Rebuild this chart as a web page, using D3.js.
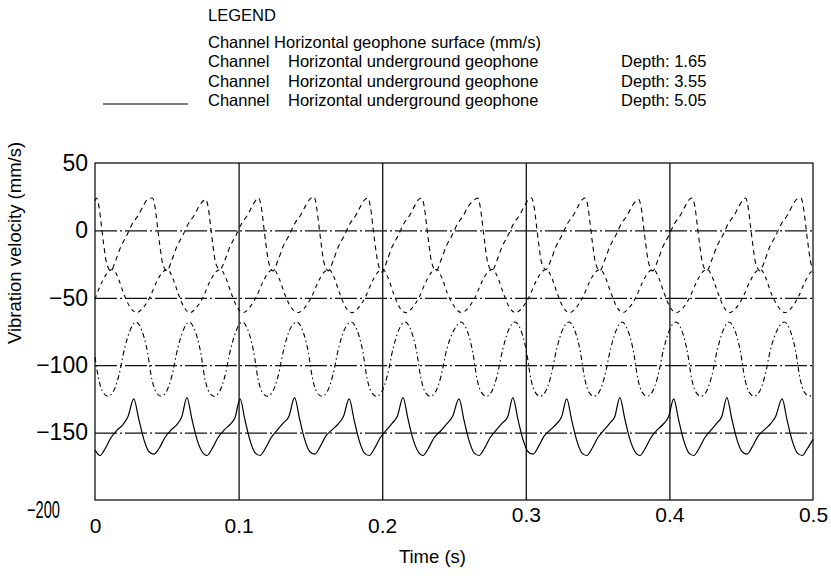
<!DOCTYPE html>
<html>
<head>
<meta charset="utf-8">
<script src="https://d3js.org/d3.v7.min.js"></script>
<style>
  body { margin: 0; background: #fff; }
  svg text { font-family: Arial, "Liberation Sans", sans-serif; fill: #000; }
</style>
</head>
<body>
<div id="my_dataviz"></div>
<script>

// key points: [time (ms), velocity (mm/s)]
var surface = [
  [0,22],[1,24],[3,16],[4.5,3],[6,-10],[8,-24],[11,-30],[14.5,-22],[18,-12],[22,-4],[26,5],[30,11],[33.5,18],[36.5,23],
  [40,24],[42,16],[43.5,3],[45,-10],[47,-24],[50,-30],[53.5,-22],[57,-12],[61,-4],[65,5],[69,11],[72.5,18],[75.5,22],
  [77,23],[79,16],[80.5,3],[82,-10],[84,-24],[87,-29],[90.5,-22],[94,-12],[98,-4],[102,5],[106,11],[109.5,18],[112.5,23],
  [114,24],[116,16],[117.5,3],[119,-10],[121,-24],[124,-30],[127.5,-22],[131,-12],[135,-4],[139,5],[143,11],[146.5,18],[149.5,23],
  [152.5,25],[154.5,16],[156,3],[157.5,-10],[159.5,-24],[162.5,-30],[166,-22],[169.5,-12],[173.5,-4],[177.5,5],[181.5,11],[185,18],[188,23],
  [190,24],[192,16],[193.5,3],[195,-10],[197,-24],[200,-31],[203.5,-22],[207,-12],[211,-4],[215,5],[219,11],[222.5,18],[225.5,23],
  [227.5,24],[229.5,16],[231,3],[232.5,-10],[234.5,-24],[237.5,-30],[241,-22],[244.5,-12],[248.5,-4],[252.5,5],[256.5,11],[260,18],[263.5,22],
  [266.5,24],[268.5,16],[270,3],[271.5,-10],[273.5,-24],[276.5,-30],[280,-22],[283.5,-12],[287.5,-4],[291.5,5],[295.5,11],[299,18],[302,23],
  [304,24],[306,16],[307.5,3],[309,-10],[311,-24],[314,-29],[317.5,-22],[321,-12],[325,-4],[329,5],[333,11],[336.5,18],[339.5,23],
  [341.5,24],[343.5,16],[345,3],[346.5,-10],[348.5,-24],[351.5,-30],[355,-22],[358.5,-12],[362.5,-4],[366.5,5],[370.5,11],[374,18],[377,22],
  [378.5,23],[380.5,16],[382,3],[383.5,-10],[385.5,-24],[388.5,-30],[392,-22],[395.5,-12],[399.5,-4],[403.5,5],[407.5,11],[411,18],[414,23],
  [416,24],[418,16],[419.5,3],[421,-10],[423,-24],[426,-30],[429.5,-22],[433,-12],[437,-4],[441,5],[445,11],[448.5,18],[451.5,23],
  [453,24],[455,16],[456.5,3],[458,-10],[460,-24],[463,-30],[466.5,-22],[470,-12],[474,-4],[478,5],[482,11],[485.5,18],[488.5,23],
  [491.5,24],[493.5,16],[495,3],[496.5,-10],[498.5,-24],[500,-28]
];

var depth165 = [
  [0,-51],[5,-38],[9,-31],[12.5,-29],[16,-35],[20,-47],[24.5,-57],
  [29,-61],[33,-58],[38,-50],[43,-38],[47,-31],[50.5,-29],[54,-35],[58,-47],[62,-57],
  [66,-61],[70,-58],[75,-50],[80,-38],[84,-31],[87.5,-29],[91,-35],[95,-47],[99,-57],
  [103,-61],[107,-58],[112,-50],[117,-38],[121,-31],[124.5,-29],[128,-35],[132,-47],[136.5,-57],
  [141.5,-61],[145.5,-58],[150.5,-50],[155.5,-38],[159.5,-31],[163,-29],[166.5,-35],[170.5,-47],[174.5,-57],
  [179,-61],[183,-58],[188,-50],[193,-38],[197,-31],[200.5,-29],[204,-35],[208,-47],[212,-57],
  [216.5,-61],[220.5,-58],[225.5,-50],[230.5,-38],[234.5,-31],[238,-29],[241.5,-35],[245.5,-47],[250.5,-57],
  [255.5,-61],[259.5,-58],[264.5,-50],[269.5,-38],[273.5,-31],[277,-29],[280.5,-35],[284.5,-47],[288.5,-57],
  [293,-61],[297,-58],[302,-50],[307,-38],[311,-31],[314.5,-29],[318,-35],[322,-47],[326,-57],
  [330.5,-61],[334.5,-58],[339.5,-50],[344.5,-38],[348.5,-31],[352,-29],[355.5,-35],[359.5,-47],[363.5,-57],
  [367.5,-61],[371.5,-58],[376.5,-50],[381.5,-38],[385.5,-31],[389,-29],[392.5,-35],[396.5,-47],[400.5,-57],
  [405,-61],[409,-58],[414,-50],[419,-38],[423,-31],[426.5,-29],[430,-35],[434,-47],[438,-57],
  [442,-61],[446,-58],[451,-50],[456,-38],[460,-31],[463.5,-29],[467,-35],[471,-47],[476,-57],
  [480.5,-61],[484.5,-58],[489.5,-50],[494.5,-38],[498.5,-31],[500,-30]
];

var depth355 = [
  [0,-94],[2.5,-110],[5.5,-120],[9,-123],[12.5,-120],[16.5,-108],[20.5,-88],[24.5,-74],
  [28.5,-68],[32.5,-74],[36.5,-90],[39.5,-110],[42.5,-120],[46,-123],[49.5,-120],[53.5,-108],[57.5,-88],[61.5,-74],
  [65.5,-68],[69.5,-74],[73.5,-90],[76.5,-110],[79.5,-120],[83,-123],[86.5,-120],[90.5,-108],[94.5,-88],[98.5,-74],
  [102.5,-68],[106.5,-74],[110.5,-90],[113.5,-110],[116.5,-120],[120,-123],[123.5,-120],[127.5,-108],[131.5,-88],[135.5,-74],
  [140.5,-68],[144.5,-74],[148.5,-90],[151.5,-110],[154.5,-120],[158,-123],[161.5,-120],[165.5,-108],[169.5,-88],[173.5,-74],
  [178.5,-68],[182.5,-74],[186.5,-90],[189.5,-110],[192.5,-120],[196,-123],[199.5,-120],[203.5,-108],[207.5,-88],[211.5,-74],
  [216,-68],[220,-74],[224,-90],[227,-110],[230,-120],[233.5,-123],[237,-120],[241,-108],[245,-88],[250,-74],
  [255,-68],[259,-74],[263,-90],[266,-110],[269,-120],[272.5,-123],[276,-120],[280,-108],[284,-88],[288,-74],
  [292.5,-68],[296.5,-74],[300.5,-90],[303.5,-110],[306.5,-120],[310,-123],[313.5,-120],[317.5,-108],[321.5,-88],[325.5,-74],
  [330,-68],[334,-74],[338,-90],[341,-110],[344,-120],[347.5,-123],[351,-120],[355,-108],[359,-88],[363,-74],
  [367,-68],[371,-74],[375,-90],[378,-110],[381,-120],[384.5,-123],[388,-120],[392,-108],[396,-88],[400,-74],
  [404.5,-68],[408.5,-74],[412.5,-90],[415.5,-110],[418.5,-120],[422,-123],[425.5,-120],[429.5,-108],[433.5,-88],[437.5,-74],
  [441.5,-68],[445.5,-74],[449.5,-90],[452.5,-110],[455.5,-120],[459,-123],[462.5,-120],[466.5,-108],[470.5,-88],[475,-74],
  [480,-68],[484,-74],[488,-90],[491,-110],[494,-120],[497.5,-123],[500,-121]
];

var depth505 = [
  [0,-163],[3.5,-167],[7,-162],[11,-154],[15.5,-148],[19.5,-144],[23,-138],
  [27,-125],[30.5,-140],[34,-155],[37.5,-164],[41,-166],[44.5,-162],[48.5,-154],[53,-148],[57,-144],[60.5,-138],
  [64,-124],[67.5,-140],[71,-155],[74.5,-164],[78,-167],[81.5,-162],[85.5,-154],[90,-148],[94,-144],[97.5,-139],
  [101,-125],[104.5,-141],[108,-156],[111.5,-165],[115,-167],[118.5,-162],[122.5,-154],[127,-148],[131,-143],[135,-138],
  [139,-124],[142.5,-140],[146,-155],[149.5,-164],[153,-166],[156.5,-161],[160.5,-153],[165,-148],[169,-144],[173,-138],
  [177,-125],[180.5,-141],[184,-156],[187.5,-165],[191,-167],[194.5,-162],[198.5,-154],[203,-148],[207,-143],[210.5,-138],
  [214.5,-124],[218,-140],[221.5,-155],[225,-164],[228.5,-167],[232,-162],[236,-154],[240.5,-149],[244.5,-144],[249,-138],
  [253.5,-125],[257,-141],[260.5,-156],[264,-165],[267.5,-167],[271,-162],[275,-154],[279.5,-148],[283.5,-143],[287.5,-138],
  [291,-124],[294.5,-140],[298,-155],[301.5,-164],[305,-166],[308.5,-161],[312.5,-153],[317,-148],[321,-144],[325,-138],
  [328.5,-125],[332,-141],[335.5,-156],[339,-165],[342.5,-167],[346,-162],[350,-154],[354.5,-148],[358.5,-143],[362,-138],
  [365.5,-124],[369,-140],[372.5,-155],[376,-164],[379.5,-167],[383,-162],[387,-154],[391.5,-148],[395.5,-144],[399.5,-138],
  [403,-125],[406.5,-141],[410,-156],[413.5,-165],[417,-167],[420.5,-162],[424.5,-154],[429,-148],[433,-143],[436.5,-138],
  [440,-124],[443.5,-140],[447,-155],[450.5,-164],[454,-166],[457.5,-161],[461.5,-153],[466,-148],[470,-144],[474,-138],
  [478.5,-125],[482,-141],[485.5,-156],[489,-165],[492.5,-167],[496,-162],[500,-155]
];

var xTicks = [0, 0.1, 0.2, 0.3, 0.4, 0.5];
var yTicks = [50, 0, -50, -100, -150, -200];
var xGrid = [0.1, 0.2, 0.3, 0.4];
var yGrid = [0, -50, -100, -150];
var depths = ["1.65", "3.55", "5.05"];

// plot box
var margin = {top: 163, right: 18, bottom: 76, left: 95},
    width = 831 - margin.left - margin.right,
    height = 576 - margin.top - margin.bottom;

var svg = d3.select("#my_dataviz")
  .append("svg")
    .attr("width", 831)
    .attr("height", 576);

var g = svg.append("g")
    .attr("transform", "translate(" + margin.left + "," + margin.top + ")");

var x = d3.scaleLinear().domain([0, 0.5]).range([0, width]);
var y = d3.scaleLinear().domain([-200, 50]).range([height, 0]);

// vertical grid lines
g.append("g")
  .attr("transform", "translate(0," + height + ")")
  .call(d3.axisBottom(x).tickValues(xGrid).tickSize(-height).tickFormat(""))
  .call(function(a) { a.select(".domain").remove(); })
  .selectAll("line")
    .attr("stroke", "#111")
    .attr("stroke-width", 1.3);

// horizontal reference lines (dash-dot)
g.append("g")
  .call(d3.axisLeft(y).tickValues(yGrid).tickSize(-width).tickFormat(""))
  .call(function(a) { a.select(".domain").remove(); })
  .selectAll("line")
    .attr("stroke", "#111")
    .attr("stroke-width", 1.3)
    .attr("stroke-dasharray", "22,3,2,3");

// traces
var line = d3.line()
  .x(function(d) { return x(d[0] / 1000); })
  .y(function(d) { return y(d[1]); })
  .curve(d3.curveMonotoneX);

var traces = [
  {values: surface,  dash: "5,4",       w: 1.1},
  {values: depth165, dash: "4,4",       w: 1.1},
  {values: depth355, dash: "5,3,1.5,3", w: 1.1},
  {values: depth505, dash: null,        w: 1.2}
];

g.selectAll("myLines")
  .data(traces)
  .enter()
  .append("path")
    .attr("d", function(d) { return line(d.values); })
    .attr("fill", "none")
    .attr("stroke", "#000")
    .attr("stroke-width", function(d) { return d.w; })
    .attr("stroke-dasharray", function(d) { return d.dash; });

// frame
g.append("rect")
  .attr("width", width)
  .attr("height", height)
  .attr("fill", "none")
  .attr("stroke", "#000")
  .attr("stroke-width", 1.2);

// y axis labels
var yAxis = g.append("g")
  .call(d3.axisLeft(y).tickValues(yTicks).tickSize(0).tickPadding(7)
    .tickFormat(function(d) { return d < 0 ? "\u2212" + Math.abs(d) : d; }));
yAxis.select(".domain").remove();
yAxis.selectAll("text")
  .style("font-size", "23px")
  .attr("font-family", null);
yAxis.selectAll(".tick")
  .filter(function(d) { return d === -200; })
  .select("text")
    .attr("x", -35)
    .attr("dy", "0.78em")
    .attr("textLength", 33)
    .attr("lengthAdjust", "spacingAndGlyphs");

// x axis labels, second half sits higher as in the original
var xAxis = g.append("g")
  .attr("transform", "translate(0," + height + ")")
  .call(d3.axisBottom(x).tickValues(xTicks).tickSize(0).tickPadding(0)
    .tickFormat(function(d) { return d === 0 ? "0" : d3.format(".1f")(d); }));
xAxis.select(".domain").remove();
xAxis.selectAll("text")
  .style("font-size", "21px")
  .attr("font-family", null)
  .attr("y", function(d) { return d < 0.25 ? 18 : 7; });

// axis titles
svg.append("text")
  .attr("x", margin.left + x(0.235))
  .attr("y", 563)
  .attr("text-anchor", "middle")
  .style("font-size", "18.5px")
  .text("Time (s)");

svg.append("text")
  .attr("transform", "translate(21," + 243 + ") rotate(-90)")
  .attr("text-anchor", "middle")
  .style("font-size", "18.5px")
  .text("Vibration velocity (mm/s)");

// legend
var lg = svg.append("g").attr("transform", "translate(208,0)");
lg.append("text").attr("x", 0).attr("y", 21).style("font-size", "16.5px").text("LEGEND");
lg.append("text").attr("x", 0).attr("y", 48).style("font-size", "16.5px")
  .text("Channel Horizontal geophone surface (mm/s)");

var rows = lg.selectAll("myRows")
  .data(depths)
  .enter()
  .append("g")
    .attr("transform", function(d, i) { return "translate(0," + (67 + i * 19.5) + ")"; });
rows.append("text").attr("x", 0).style("font-size", "16.5px").text("Channel");
rows.append("text").attr("x", 80).style("font-size", "16.5px").text("Horizontal underground geophone");
rows.append("text").attr("x", 413).style("font-size", "16.5px").text(function(d) { return "Depth: " + d; });

// only the solid trace shows its sample line
lg.append("line")
  .attr("x1", -105).attr("x2", -20)
  .attr("y1", 104).attr("y2", 104)
  .attr("stroke", "#000")
  .attr("stroke-width", 1.2);

</script>
</body>
</html>
